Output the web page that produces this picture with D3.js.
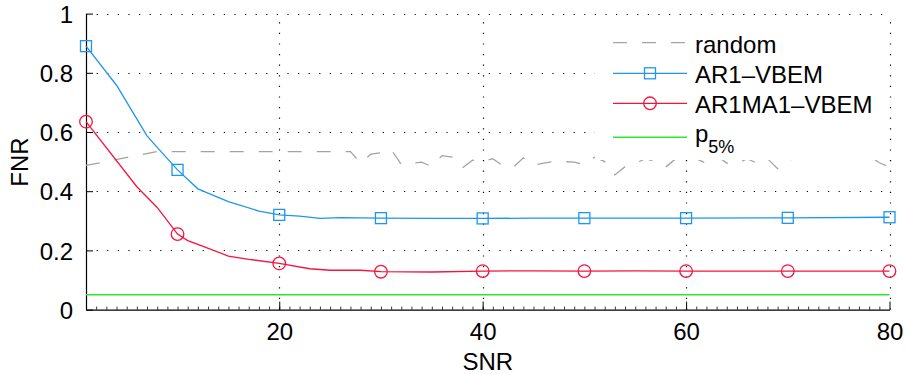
<!DOCTYPE html>
<html>
<head>
<meta charset="utf-8">
<script src="https://cdn.jsdelivr.net/npm/d3@7"></script>
<style>
  html, body { margin: 0; padding: 0; background: #fff; }
  svg { display: block; font-family: "Liberation Sans", Arial, Helvetica, sans-serif; }
</style>
</head>
<body>
<svg id="chart" width="908" height="375"></svg>
<script>
// False-negative rate versus SNR for the two VBEM models, a random guess and the 5% level.

// AR1-VBEM
const snrAR1 = [1, 4, 7, 8, 10, 12, 15, 18, 20, 22, 24, 26, 30, 35, 40, 45, 50, 60, 70, 80];
const fnrAR1 = [0.890, 0.758, 0.587, 0.548, 0.472, 0.408, 0.365, 0.333, 0.320, 0.316, 0.308, 0.311,
                0.309, 0.308, 0.308, 0.309, 0.309, 0.309, 0.310, 0.312];

// AR1MA1-VBEM
const snrARMA = [1, 6, 8, 10, 11, 12, 15, 17, 20, 23, 25, 28, 30, 35, 40, 45, 50, 55, 60, 70, 80];
const fnrARMA = [0.635, 0.415, 0.345, 0.255, 0.233, 0.220, 0.181, 0.170, 0.156, 0.138, 0.133, 0.133,
                 0.128, 0.127, 0.130, 0.131, 0.130, 0.131, 0.130, 0.130, 0.130];

// random guess
const snrRandom = [1, 8, 27, 28, 29, 30, 31, 32, 33, 34, 35, 36, 37, 38, 39, 40, 41, 42, 43, 44, 45,
                   46, 47, 48, 49, 50, 51, 52, 53, 54, 55, 56, 57, 58, 59, 60, 61, 62, 63, 64, 65,
                   66, 67, 68, 69, 70, 71, 72, 73, 74, 75, 76, 77, 78, 79, 80];
const fnrRandom = [0.487, 0.534, 0.534, 0.495, 0.525, 0.530, 0.541, 0.490, 0.494, 0.498, 0.483, 0.520,
                   0.515, 0.478, 0.505, 0.500, 0.510, 0.485, 0.480, 0.513, 0.488, 0.495, 0.500, 0.500,
                   0.498, 0.490, 0.515, 0.500, 0.455, 0.483, 0.494, 0.510, 0.500, 0.482, 0.510, 0.520,
                   0.510, 0.494, 0.520, 0.495, 0.492, 0.510, 0.494, 0.510, 0.476, 0.500, 0.520, 0.510,
                   0.515, 0.520, 0.510, 0.520, 0.515, 0.520, 0.496, 0.482];

// 5% level
const snrP5 = [1, 80];
const fnrP5 = [0.05, 0.05];

// SNR values carrying a marker
const markerSNR = [1, 10, 20, 30, 40, 50, 60, 70, 80];

const xTicks = [20, 40, 60, 80];
const yTicks = [0, 0.2, 0.4, 0.6, 0.8, 1];
const yTickLabels = ["0", "0.2", "0.4", "0.6", "0.8", "1"];

const legendLabels = ["random", "AR1\u2013VBEM", "AR1MA1\u2013VBEM", "p"];

const colBlue = "#1e96f0", colRed = "#f5143c", colGreen = "#2ee62e", colGray = "#a3a3a3";

const svg = d3.select("#chart");
const x = d3.scaleLinear().domain([1, 80]).range([86, 889.5]);
const y = d3.scaleLinear().domain([0, 1]).range([309.6, 13.6]);
const fontSize = 24;

const zip = (xs, ys) => xs.map((v, i) => [v, ys[i]]);
const line = d3.line().x(d => x(d[0])).y(d => y(d[1]));

// dotted grid
const grid = svg.append("g").attr("stroke", "#000").attr("stroke-width", 1.2)
  .attr("stroke-dasharray", "1.2,9.4").attr("fill", "none");
grid.selectAll("line.h").data(yTicks.filter(v => v > 0)).join("line")
  .attr("x1", x(1)).attr("x2", x(80))
  .attr("y1", d => Math.round(y(d)) + 0.5).attr("y2", d => Math.round(y(d)) + 0.5);
grid.selectAll("line.v").data(xTicks).join("line")
  .attr("x1", d => Math.round(x(d)) + 0.5).attr("x2", d => Math.round(x(d)) + 0.5)
  .attr("y1", y(0)).attr("y2", y(1));

// x axis: major ticks, minor ticks every unit, inward
const xAxis = d3.axisBottom(x).tickValues(xTicks).tickSizeInner(-8).tickSizeOuter(0)
  .tickPadding(16).tickFormat(d3.format("d"));
const gx = svg.append("g").attr("transform", `translate(0,${y(0)})`).call(xAxis);
gx.selectAll(".tick line").attr("stroke", "#000");
gx.select(".domain").attr("stroke", "#000").attr("stroke-width", 1.2);
gx.selectAll(".tick text").attr("font-size", fontSize).attr("fill", "#000")
  .attr("font-family", "Liberation Sans, Arial, sans-serif").attr("dy", 0).attr("y", 30);
const minor = d3.axisBottom(x).tickValues(d3.range(2, 80)).tickSizeInner(-3).tickSizeOuter(0).tickFormat("");
const gm = svg.append("g").attr("transform", `translate(0,${y(0)})`).call(minor);
gm.select(".domain").remove();
gm.selectAll(".tick line").attr("stroke", "#000").attr("stroke-width", 0.8);

// y axis
const yAxis = d3.axisLeft(y).tickValues(yTicks).tickSizeInner(-7).tickSizeOuter(0)
  .tickPadding(13).tickFormat((d, i) => yTickLabels[i]);
const gy = svg.append("g").attr("transform", `translate(${x(1)},0)`).call(yAxis);
gy.selectAll(".tick line").attr("stroke", "#000");
gy.select(".domain").attr("stroke", "#000").attr("stroke-width", 1.2);
gy.selectAll(".tick text").attr("font-size", fontSize).attr("fill", "#000")
  .attr("font-family", "Liberation Sans, Arial, sans-serif").attr("dy", "0.36em");

// axis titles
svg.append("text").attr("x", (x(1) + x(80)) / 2).attr("y", 370).attr("text-anchor", "middle")
  .attr("font-size", fontSize).text("SNR");
svg.append("text").attr("transform", "translate(27.5,162) rotate(-90)").attr("text-anchor", "middle")
  .attr("font-size", fontSize).text("FNR");

// series
svg.append("path").datum(zip(snrRandom, fnrRandom)).attr("d", line)
  .attr("fill", "none").attr("stroke", colGray).attr("stroke-width", 1.3).attr("stroke-dasharray", "14,15");
svg.append("path").datum(zip(snrP5, fnrP5)).attr("d", line)
  .attr("fill", "none").attr("stroke", colGreen).attr("stroke-width", 1.5);
svg.append("path").datum(zip(snrAR1, fnrAR1)).attr("d", line)
  .attr("fill", "none").attr("stroke", colBlue).attr("stroke-width", 1.3);
svg.append("path").datum(zip(snrARMA, fnrARMA)).attr("d", line)
  .attr("fill", "none").attr("stroke", colRed).attr("stroke-width", 1.3);

const sq = 11, rc = 6.3;
svg.append("g").selectAll("rect").data(zip(snrAR1, fnrAR1).filter(d => markerSNR.includes(d[0]))).join("rect")
  .attr("x", d => x(d[0]) - sq / 2).attr("y", d => y(d[1]) - sq / 2)
  .attr("width", sq).attr("height", sq)
  .attr("fill", "none").attr("stroke", colBlue).attr("stroke-width", 1.3);
svg.append("g").selectAll("circle").data(zip(snrARMA, fnrARMA).filter(d => markerSNR.includes(d[0]))).join("circle")
  .attr("cx", d => x(d[0])).attr("cy", d => y(d[1])).attr("r", rc)
  .attr("fill", "none").attr("stroke", colRed).attr("stroke-width", 1.3);

// legend
const lg = svg.append("g");
lg.append("rect").attr("x", 595).attr("y", 18).attr("width", 291).attr("height", 142).attr("fill", "#fff");
const rowY = [42.7, 73.3, 103.3, 137.3];
const lx1 = 613, lx2 = 687, lmid = 650, tx = 695;
lg.append("line").attr("x1", lx1).attr("x2", lx2).attr("y1", rowY[0]).attr("y2", rowY[0])
  .attr("stroke", colGray).attr("stroke-width", 1.3).attr("stroke-dasharray", "14,15");
lg.append("line").attr("x1", lx1).attr("x2", lx2).attr("y1", rowY[1]).attr("y2", rowY[1])
  .attr("stroke", colBlue).attr("stroke-width", 1.3);
lg.append("rect").attr("x", lmid - sq / 2).attr("y", rowY[1] - sq / 2).attr("width", sq).attr("height", sq)
  .attr("fill", "none").attr("stroke", colBlue).attr("stroke-width", 1.3);
lg.append("line").attr("x1", lx1).attr("x2", lx2).attr("y1", rowY[2]).attr("y2", rowY[2])
  .attr("stroke", colRed).attr("stroke-width", 1.3);
lg.append("circle").attr("cx", lmid).attr("cy", rowY[2]).attr("r", rc)
  .attr("fill", "none").attr("stroke", colRed).attr("stroke-width", 1.3);
lg.append("line").attr("x1", lx1).attr("x2", lx2).attr("y1", rowY[3]).attr("y2", rowY[3])
  .attr("stroke", colGreen).attr("stroke-width", 1.5);

[0, 1, 2].forEach(i => {
  lg.append("text").attr("x", tx).attr("y", rowY[i] + 10).attr("font-size", fontSize).text(legendLabels[i]);
});
const pText = lg.append("text").attr("x", tx).attr("y", 142).attr("font-size", fontSize);
pText.append("tspan").text(legendLabels[3]);
pText.append("tspan").attr("font-size", 18).attr("dy", 11).text("5%");
</script>
</body>
</html>
